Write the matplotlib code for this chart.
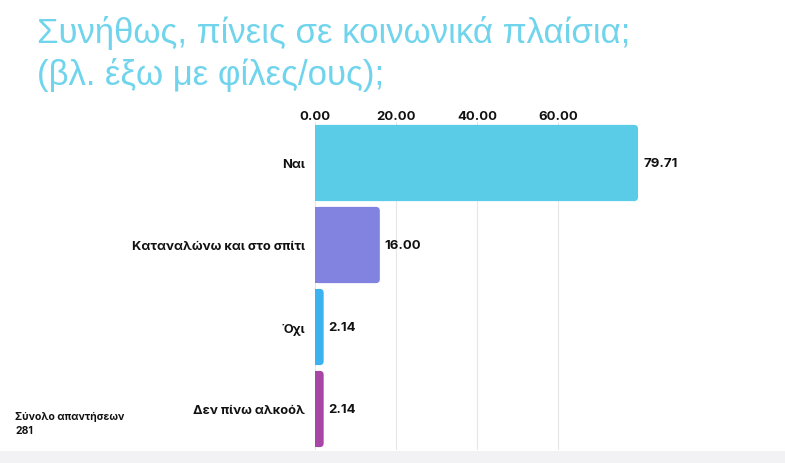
import matplotlib
matplotlib.use("Agg")
import matplotlib.pyplot as plt
from matplotlib.patches import FancyBboxPatch, Rectangle

# data
categories = ["Ναι", "Καταναλώνω και στο σπίτι", "Όχι", "Δεν πίνω αλκοόλ"]
values = [79.71, 16.00, 2.14, 2.14]
colors = ["#5bcce8", "#8282e0", "#3db2f0", "#a846a8"]
ticks = [0, 20, 40, 60]
title = "Συνήθως, πίνεις σε κοινωνικά πλαίσια;\n(βλ. έξω με φίλες/ους);"
total_label = "Σύνολο απαντήσεων\n281"

W, H = 785, 464
fig = plt.figure(figsize=(W / 100, H / 100), dpi=100)
fig.patch.set_facecolor("white")

# axes placed in pixel coords
left, right, top, bottom = 315, 640, 123, 451
ax = fig.add_axes([left / W, 1 - bottom / H, (right - left) / W, (bottom - top) / H])
ax.set_xlim(0, 80.2)
ax.set_ylim(len(categories) - 0.5, -0.5)

bars = ax.barh(range(len(categories)), values, height=0.93, color=colors)
# swap plain bars for ones rounded on the right side
px_x = (right - left) / 80.2
px_y = (bottom - top) / len(categories)
for b, c in zip(bars, colors):
    b.set_visible(False)
    r = min(4 / px_x, b.get_width() / 2)
    p = FancyBboxPatch((b.get_x(), b.get_y()), b.get_width(), b.get_height(),
                       boxstyle=f"round,pad=0,rounding_size={r}",
                       mutation_aspect=px_x / px_y, facecolor=c, edgecolor="none", zorder=3)
    ax.add_patch(p)
    ax.add_patch(Rectangle((b.get_x(), b.get_y()), r, b.get_height(),
                           facecolor=c, edgecolor="none", zorder=3))

font = ["Inter", "DejaVu Sans"]
for i, v in enumerate(values):
    ax.text(v + 5 / px_x, i, f"{v:.2f}", va="center", ha="left",
            fontsize=9.5, fontweight="bold", family=font, color="#111111")

ax.set_xticks(ticks)
ax.set_xticklabels([f"{t:.2f}" for t in ticks], fontsize=9.5, fontweight="bold",
                   family=font, color="#111111")
ax.xaxis.tick_top()
ax.tick_params(axis="x", length=0, pad=0)
ax.set_yticks(range(len(categories)))
ax.set_yticklabels(categories, fontsize=9.3, fontweight="bold",
                   family=font, color="#111111")
ax.tick_params(axis="y", length=0, pad=7)
ax.grid(axis="x", color="#e6e6e6", linewidth=0.8, zorder=0)
ax.set_axisbelow(True)
for s in ax.spines.values():
    s.set_visible(False)

fig.text(37 / W, 1 - 16 / H, title, ha="left", va="top", fontsize=25,
         family=["Liberation Sans", "DejaVu Sans"],
         color="#6fd4ec", linespacing=1.3)

fig.text(15 / W, 1 - 412 / H, total_label, ha="left", va="top", fontsize=7.5,
         fontweight="bold", family=font, color="#111111",
         linespacing=1.5)

# bottom gray strip
fig.add_artist(Rectangle((0, 0), 1, 12 / H, transform=fig.transFigure,
                         facecolor="#f2f2f4", edgecolor="none"))

fig.savefig("out.png", dpi=100)
